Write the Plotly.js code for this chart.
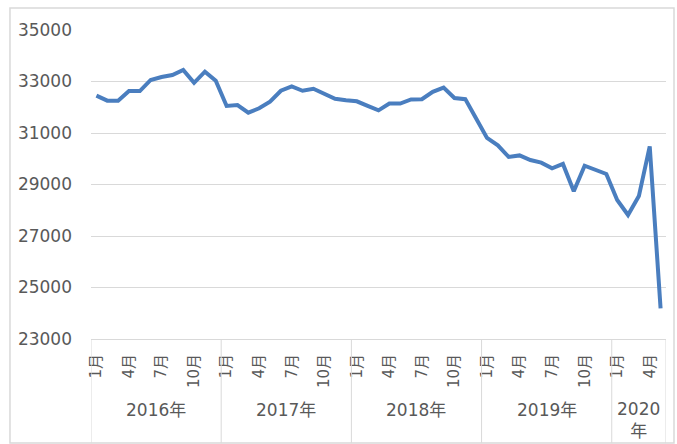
<!DOCTYPE html>
<html>
<head>
<meta charset="utf-8">
<script src="https://cdn.plot.ly/plotly-3.0.1.min.js"></script>
<style>
  html, body { margin: 0; padding: 0; background: #ffffff; }
  #chart { width: 677px; height: 444px; }
</style>
</head>
<body>
<div id="chart"></div>
<script>
// ---- data ----
const years = ['2016年', '2017年', '2018年', '2019年', '2020<br>年'];
const monthsPerYear = [12, 12, 12, 12, 5];
const monthLabelsShown = [1, 4, 7, 10];
const values2016 = [32450, 32255, 32255, 32630, 32630, 33060, 33175, 33250, 33450, 32950, 33380, 33030];
const values2017 = [32050, 32085, 31790, 31960, 32215, 32640, 32810, 32640, 32720, 32540, 32330, 32270];
const values2018 = [32230, 32050, 31880, 32145, 32145, 32305, 32310, 32600, 32765, 32360, 32315, 31560];
const values2019 = [30810, 30520, 30070, 30130, 29950, 29850, 29630, 29800, 28740, 29730, 29590, 29410];
const values2020 = [28400, 27815, 28550, 30480, 24190];
const yTicks = [23000, 25000, 27000, 29000, 31000, 33000, 35000];

// ---- build ----
const allValues = [].concat(values2016, values2017, values2018, values2019, values2020);
const xIdx = allValues.map((v, i) => i);

const tickvals = [], ticktext = [];
let k = 0;
const yearStart = [];
monthsPerYear.forEach((n, yi) => {
  yearStart.push(k);
  for (let m = 1; m <= n; m++) {
    if (monthLabelsShown.includes(m)) { tickvals.push(k); ticktext.push(m + '月'); }
    k++;
  }
});
const total = k;

const textColor = '#595959';
const gridColor = '#d9d9d9';
const fontFam = 'DejaVu Sans, Noto Sans CJK SC, sans-serif';

const shapes = [];
// year dividers below axis
yearStart.concat([total]).forEach(s => {
  shapes.push({type: 'line', xref: 'x', yref: 'paper', x0: s - 0.5, x1: s - 0.5, y0: 0, y1: -0.337,
    line: {color: gridColor, width: 1}});
});
// outer frame
shapes.push({type: 'rect', xref: 'paper', yref: 'paper', x0: -0.1409, x1: 1.0139, y0: -0.3366, y1: 1.0712,
  line: {color: gridColor, width: 1.5}, fillcolor: 'rgba(0,0,0,0)', layer: 'below'});

const annotations = years.map((yname, yi) => {
  const s = yearStart[yi], n = monthsPerYear[yi];
  const two = yname.includes('<br>');
  return {xref: 'x', yref: 'paper', x: s + (n - 1) / 2, y: two ? -0.262 : -0.23,
    text: yname, showarrow: false, xanchor: 'center', yanchor: 'middle',
    font: {family: fontFam, size: 17, color: textColor}};
});

const trace = {
  x: xIdx, y: allValues, type: 'scatter', mode: 'lines',
  line: {color: '#4a7ebf', width: 4},
  hoverinfo: 'y'
};

const layout = {
  width: 677, height: 444,
  margin: {l: 91, r: 11, t: 30, b: 105},
  paper_bgcolor: '#ffffff', plot_bgcolor: '#ffffff',
  showlegend: false,
  xaxis: {
    range: [-0.5, total - 0.5],
    tickmode: 'array', tickvals: tickvals, ticktext: ticktext,
    tickangle: -90, ticks: '', ticklabelstandoff: 8,
    showgrid: false, zeroline: false,
    showline: true, linecolor: gridColor, linewidth: 1,
    tickfont: {family: fontFam, size: 15, color: textColor},
    fixedrange: true
  },
  yaxis: {
    range: [23000, 35000],
    tickmode: 'array', tickvals: yTicks, ticktext: yTicks.map(String),
    ticks: '', ticklabelstandoff: 18,
    showgrid: true, gridcolor: gridColor, gridwidth: 1,
    zeroline: false, showline: false,
    tickfont: {family: fontFam, size: 17, color: textColor},
    fixedrange: true
  },
  shapes: shapes,
  annotations: annotations
};

Plotly.newPlot('chart', [trace], layout, {displayModeBar: false, staticPlot: true});
</script>
</body>
</html>
